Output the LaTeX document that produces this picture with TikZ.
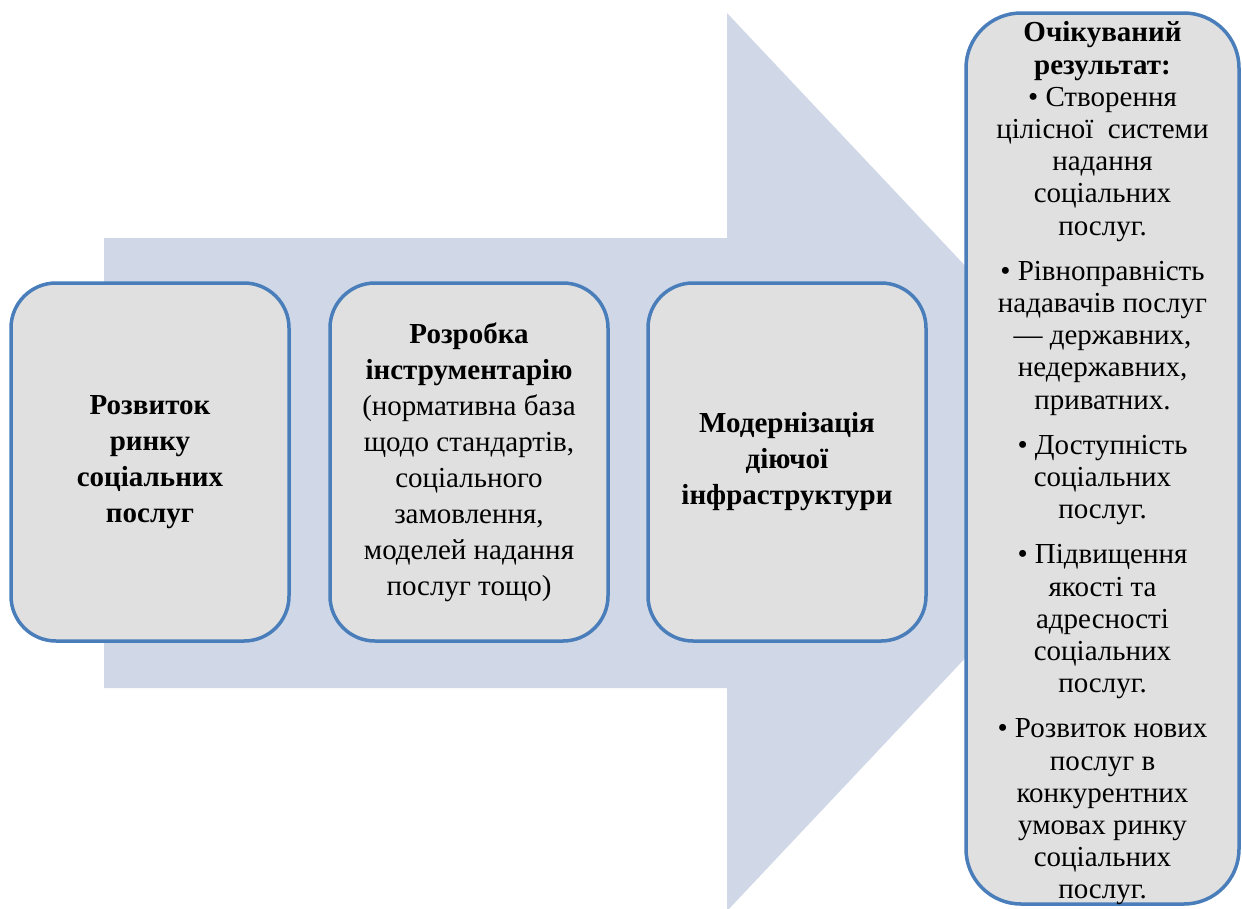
\documentclass[tikz,border=0pt]{standalone}
\usepackage{fontspec}
\setmainfont{Liberation Serif}
\definecolor{arrowfill}{HTML}{D0D8E8}
\definecolor{boxfill}{HTML}{E0E0E0}
\definecolor{boxline}{HTML}{4A7EBB}
\begin{document}
\begin{tikzpicture}[x=1pt,y=-1pt,
  stagebox/.style={draw=boxline, fill=boxfill, line width=3.5pt, rounded corners=45pt,
    minimum width=278pt, minimum height=358pt, align=center, inner sep=4pt,
    font=\fontsize{29}{36}\selectfont},
  resultbox/.style={draw=boxline, fill=boxfill, line width=3.5pt, rounded corners=55pt,
    minimum width=273pt, minimum height=891pt},
  resulttext/.style={align=center, inner sep=0pt, font=\fontsize{29}{32.2}\selectfont}]
\useasboundingbox (0,0) rectangle (1242,908);
\fill[arrowfill] (104,238) -- (727,238) -- (727,13) -- (1150,462) -- (727,911) -- (727,688) -- (104,688) -- cycle;
\node[stagebox] (s1) at (150,462) {\textbf{Розвиток}\\\textbf{ринку}\\\textbf{соціальних}\\\textbf{послуг}};
\node[stagebox] (s2) at (469,462) {\textbf{Розробка}\\\textbf{інструментарію}\\(нормативна база\\щодо стандартів,\\соціального\\замовлення,\\моделей надання\\послуг тощо)};
\node[stagebox] (s3) at (787,462) {\textbf{Модернізація}\\\textbf{діючої}\\\textbf{інфраструктури}};
\node[resultbox] (r) at (1102.5,458.5) {};
\node[resulttext] (rt) at ([yshift=-5pt]r.center) {\textbf{Очікуваний}\\\textbf{результат:}\\• Створення\\цілісної\ \ системи\\надання\\соціальних\\послуг.\\[13pt]
• Рівноправність\\надавачів послуг\\— державних,\\недержавних,\\приватних.\\[13pt]
• Доступність\\соціальних\\послуг.\\[13pt]
• Підвищення\\якості та\\адресності\\соціальних\\послуг.\\[13pt]
• Розвиток нових\\послуг в\\конкурентних\\умовах ринку\\соціальних\\послуг.};
\end{tikzpicture}
\end{document}
